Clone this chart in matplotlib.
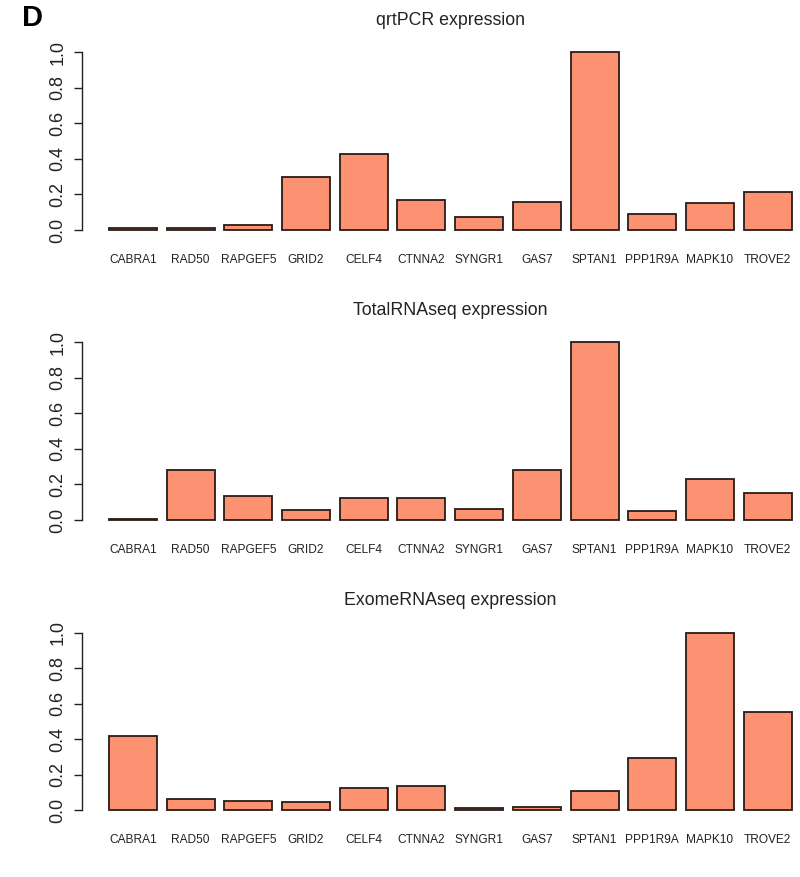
import matplotlib
matplotlib.use("Agg")
import matplotlib.pyplot as plt
import numpy as np

plt.rcParams['font.family'] = ['Liberation Sans', 'DejaVu Sans']

genes = ["CABRA1", "RAD50", "RAPGEF5", "GRID2", "CELF4", "CTNNA2", "SYNGR1",
         "GAS7", "SPTAN1", "PPP1R9A", "MAPK10", "TROVE2"]

qrtpcr = [0.011, 0.013, 0.026, 0.296, 0.427, 0.167, 0.071, 0.157, 1.0, 0.088, 0.153, 0.212]
totalrnaseq = [0.007, 0.279, 0.133, 0.054, 0.124, 0.122, 0.062, 0.281, 1.0, 0.051, 0.229, 0.152]
exomernaseq = [0.420, 0.062, 0.051, 0.049, 0.124, 0.139, 0.015, 0.017, 0.111, 0.295, 1.0, 0.553]

titles = ["qrtPCR expression", "TotalRNAseq expression", "ExomeRNAseq expression"]
series = [qrtpcr, totalrnaseq, exomernaseq]
yticks = [0.0, 0.2, 0.4, 0.6, 0.8, 1.0]
ytick_labels = ["0.0", "0.2", "0.4", "0.6", "0.8", "1.0"]

W, H = 800, 877
fig = plt.figure(figsize=(W / 100, H / 100), dpi=100)

tops_px = [45.2, 335.2, 625.6]
ax_h_px = 191.9
left_px = 81.6
right_px = 819.0

x = 0.7 + 1.2 * np.arange(len(genes))

for top, title, vals in zip(tops_px, titles, series):
    ax = fig.add_axes([left_px / W, 1 - (top + ax_h_px) / H,
                       (right_px - left_px) / W, ax_h_px / H])
    ax.bar(x, vals, width=1.0, color="#FC9272", edgecolor="#2a1c17", linewidth=1.3)
    ax.set_xlim(-0.368, 14.968)
    ax.set_ylim(-0.04, 1.04)
    for s in ["top", "right", "bottom"]:
        ax.spines[s].set_visible(False)
    ax.spines["left"].set_bounds(0, 1)
    ax.spines["left"].set_linewidth(1.0)
    ax.spines["left"].set_color("#222222")
    ax.set_yticks(yticks)
    ax.set_yticklabels(ytick_labels, rotation=90, va="center", fontsize=13, color="#222222")
    ax.tick_params(axis="y", length=6, width=1.0, pad=5, colors="#222222")
    ax.set_xticks(x)
    ax.set_xticklabels(genes, fontsize=8.6, color="#222222")
    ax.tick_params(axis="x", length=0, pad=12)
    ax.set_title(title, fontsize=12.8, pad=14.5, color="#222222")

fig.text(33 / W, 1 - 18.5 / H, "D", fontsize=21, fontweight="bold",
         ha="center", va="center")

fig.savefig("out.png", dpi=100)
